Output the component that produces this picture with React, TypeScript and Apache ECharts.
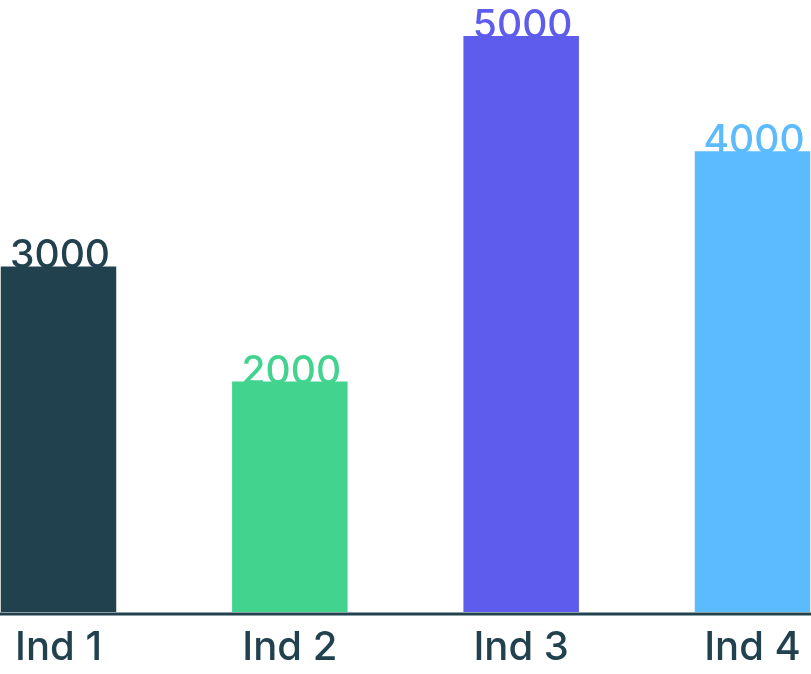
import React, { useEffect, useRef } from "react";
import * as echarts from "echarts";

const categories = ["Ind 1", "Ind 2", "Ind 3", "Ind 4"];
const values = [3000, 2000, 5000, 4000];
const colors = ["#21414f", "#42d48f", "#5e5cec", "#5cbbfd"];
const axisColor = "#21414f";
const FONT = "Inter";

export default function App() {
  const ref = useRef<HTMLDivElement>(null);
  useEffect(() => {
    if (!ref.current) return;
    const chart = echarts.init(ref.current, undefined, { renderer: "svg" });
    chart.setOption({
      animation: false,
      grid: { left: 58.5, right: 58.5, top: 36, bottom: 62 },
      xAxis: {
        type: "category",
        data: categories,
        boundaryGap: false,
        axisLine: { show: false },
        axisTick: { show: false },
        axisLabel: {
          color: axisColor,
          fontFamily: FONT,
          fontWeight: 500,
          fontSize: 40,
          margin: 13,
        },
      },
      yAxis: {
        type: "value",
        min: 0,
        max: 5000,
        show: false,
        splitLine: { show: false },
      },
      series: [
        {
          type: "bar",
          clip: false,
          barWidth: 115.5,
          data: values.map((v, i) => ({
            value: v,
            itemStyle: { color: colors[i] },
            label: { color: colors[i] },
          })),
          label: {
            show: true,
            position: "top",
            distance: -7,
            fontFamily: FONT,
            fontWeight: 500,
            fontSize: 39,
            offset: [1.5, 0],
          },
        },
      ],
      graphic: [
        {
          type: "line",
          shape: { x1: 0, y1: 614, x2: 811, y2: 614 },
          style: { stroke: axisColor, lineWidth: 3 },
        },
      ],
    });
    return () => chart.dispose();
  }, []);
  return (
    <div
      ref={ref}
      style={{ position: "fixed", left: 0, top: 0, width: 811, height: 674 }}
    />
  );
}
